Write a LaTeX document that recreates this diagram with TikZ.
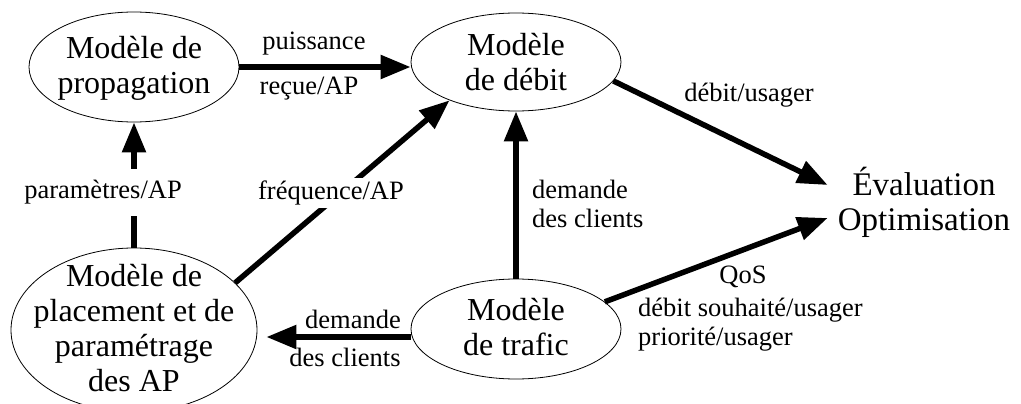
\documentclass[tikz,border=0pt]{standalone}
\usepackage{fontspec}
\setmainfont{Liberation Serif}
\usetikzlibrary{arrows.meta,calc,shapes.geometric}
\begin{document}
\begin{tikzpicture}[x=1pt,y=-1pt,
  mdl/.style={ellipse,draw,line width=0.8pt,inner sep=0pt},
  mtxt/.style={inner sep=0pt,align=center,font=\fontsize{32}{35}\selectfont},
  lbl/.style={inner sep=0pt,font=\fontsize{26.5}{29}\selectfont},
  arr/.style={line width=5.5pt,-{Triangle[length=30pt,width=23pt]}}]
\useasboundingbox (0,0) rectangle (1021,404);
% model ellipses
\node[mdl,minimum width=210pt,minimum height=110pt] (prop) at (134,67) {};
\node[mdl,minimum width=210pt,minimum height=98pt] (debit) at (516,62) {};
\node[mdl,minimum width=210pt,minimum height=100pt] (trafic) at (516,329) {};
\node[mdl,minimum width=246pt,minimum height=164pt] (place) at (134,330) {};
% texts
\node[mtxt] (propT) at (134,68) {Modèle de\\propagation};
\node[mtxt] (debitT) at (516,62) {Modèle\\de débit};
\node[mtxt] (traficT) at (516,327) {Modèle\\de trafic};
\node[mtxt] (placeT) at (134,328) {Modèle de\\placement et de\\paramétrage\\des AP};
\node[inner sep=0pt,align=center,font=\fontsize{33}{35}\selectfont] (eval) at (924,202) {Évaluation\\Optimisation};
% connectors
\draw[arr] (prop.east) -- (prop.east -| debit.west);
\draw[arr] (place.north) -- (prop.south);
\draw[arr] (place.25) -- (debit.210);
\draw[arr] (trafic.north) -- (debit.south);
\draw[arr,shorten >=9pt] ([yshift=-8pt]trafic.west) -- ([yshift=-8pt]trafic.west -| place.east);
\draw[arr] (debit.-11) -- ($(eval.west)+(-10,-17)$);
\draw[arr] (trafic.17) -- ($(eval.west)+(-10,16)$);
% labels
\node[lbl] (l1a) at (314,44) {puissance};
\node[lbl] (l1b) at (309,89) {reçue/AP};
\node[lbl,fill=white,minimum height=47pt] (l2) at (103,192) {paramètres/AP};
\node[lbl,fill=white,minimum height=30pt] (l3) at (331,193) {fréquence/AP};
\node[lbl,anchor=west,align=left] (l4) at (532,204) {demande\\des clients};
\node[lbl] (l5a) at (353,319) {demande};
\node[lbl] (l5b) at (345,357) {des clients};
\node[lbl] (l6) at (749,95) {débit/usager};
\node[lbl] (l7a) at (743,277) {QoS};
\node[lbl,anchor=west,align=left] (l7b) at (638,325) {débit souhaité/usager\\priorité/usager};
\end{tikzpicture}
\end{document}
